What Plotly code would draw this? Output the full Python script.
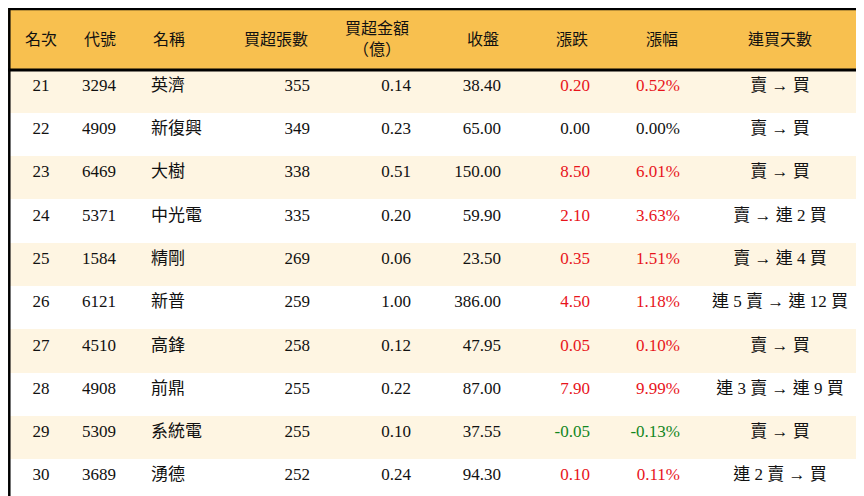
import plotly.graph_objects as go

rank = [21, 22, 23, 24, 25, 26, 27, 28, 29, 30]
code = ["3294", "4909", "6469", "5371", "1584", "6121", "4510", "4908", "5309", "3689"]
name = ["英濟", "新復興", "大樹", "中光電", "精剛", "新普", "高鋒", "前鼎", "系統電", "湧德"]
net_lots = [355, 349, 338, 335, 269, 259, 258, 255, 255, 252]
net_amount = [0.14, 0.23, 0.51, 0.20, 0.06, 1.00, 0.12, 0.22, 0.10, 0.24]
close = [38.40, 65.00, 150.00, 59.90, 23.50, 386.00, 47.95, 87.00, 37.55, 94.30]
change = [0.20, 0.00, 8.50, 2.10, 0.35, 4.50, 0.05, 7.90, -0.05, 0.10]
pct = [0.52, 0.00, 6.01, 3.63, 1.51, 1.18, 0.10, 9.99, -0.13, 0.11]
streak = ["賣 → 買", "賣 → 買", "賣 → 買", "賣 → 連 2 買", "賣 → 連 4 買",
          "連 5 賣 → 連 12 買", "賣 → 買", "連 3 賣 → 連 9 買", "賣 → 買", "連 2 賣 → 買"]

headers = ["名次", "代號", "名稱", "買超張數", "買超金額<br>（億）", "收盤", "漲跌", "漲幅", "連買天數"]

W, H, HEAD = 864, 496, 62
widths = [66, 69, 75, 100, 101, 90, 89, 90, 184]
aligns = ["center", "left", "left", "right", "right", "right", "right", "right", "center"]


def sign_color(v):
    if v > 0:
        return "#e8141b"
    if v < 0:
        return "#12861e"
    return "#111111"


chg_colors = [sign_color(v) for v in change]
black = ["#111111"] * len(rank)
row_fill = ["#fef5e2" if i % 2 == 0 else "#ffffff" for i in range(len(rank))]

cells = [
    rank, code, name, net_lots,
    [f"{v:.2f}" for v in net_amount],
    [f"{v:.2f}" for v in close],
    [f"{v:.2f}" for v in change],
    [f"{v:.2f}%" for v in pct],
    streak,
]

font = "Liberation Serif, Noto Sans CJK TC"

fig = go.Figure(go.Table(
    domain=dict(x=[0, 1], y=[0, 1 - HEAD / H]),
    columnwidth=widths,
    header=dict(values=[""] * 9, height=0, fill_color="rgba(0,0,0,0)",
                line_color="rgba(0,0,0,0)"),
    cells=dict(
        values=cells,
        fill_color=[row_fill] * 9,
        line_color=[row_fill] * 9,
        align=aligns,
        font=dict(family=font, size=17,
                  color=[black, black, black, black, black, black, chg_colors, chg_colors, black]),
        height=43.3,
    ),
))

# header band drawn as shape + annotations so text sits vertically centred
fig.add_shape(type="rect", xref="paper", yref="paper", x0=0, x1=1, y0=1 - HEAD / H, y1=1,
              fillcolor="#f8c04f", line_width=0, layer="below")
left = 0
for txt, w, al in zip(headers, widths, aligns):
    if al == "center":
        xpos, anchor = left + w / 2, "center"
    elif al == "left":
        xpos, anchor = left + 8, "left"
    else:
        xpos, anchor = left + w - 8, "right"
    fig.add_annotation(x=xpos / W, y=1 - (HEAD / 2) / H, xref="paper", yref="paper",
                       text=txt, showarrow=False, xanchor=anchor, yanchor="middle",
                       align="center", font=dict(family=font, size=16, color="#111111"))
    left += w

fig.add_shape(type="line", xref="paper", yref="paper", x0=0, x1=1, y0=1 - HEAD / H, y1=1 - HEAD / H,
              line=dict(color="black", width=3))
fig.add_shape(type="rect", xref="paper", yref="paper", x0=0.0015, x1=0.9985, y0=0.002, y1=0.998,
              line=dict(color="black", width=2.5))

fig.update_layout(width=W, height=H, margin=dict(l=0, r=0, t=0, b=0),
                  paper_bgcolor="white")
fig.write_html("out.html")
